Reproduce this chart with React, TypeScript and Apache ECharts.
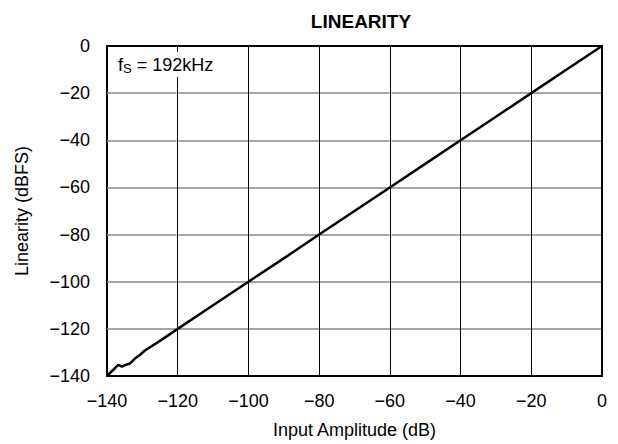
import React, { useEffect, useRef } from "react";
import * as echarts from "echarts";

const xTicks = [-140, -120, -100, -80, -60, -40, -20, 0];
const inputAmplitude = [
  -140, -136.8, -135.8, -134.9, -133.5, -132.1, -130.7, -129.3, -125, -120,
  -110, -100, -90, -80, -70, -60, -50, -40, -30, -20, -10, 0,
];
const linearity = [
  -140, -135.3, -136, -135.4, -134.7, -132.6, -131.1, -129.2, -125.1, -120,
  -110, -100, -90.1, -80, -70, -60, -50, -40, -30, -20, -10, 0,
];

const FONT = "'Liberation Sans', Arial, Helvetica, sans-serif";
const minus = (v: number) => (v < 0 ? "\u2212" + Math.abs(v) : String(v));

export default function App() {
  const ref = useRef<HTMLDivElement>(null);
  useEffect(() => {
    if (!ref.current) return;
    const chart = echarts.init(ref.current, undefined, { renderer: "svg" });
    const data = inputAmplitude.map((x, i) => [x, linearity[i]]);
    chart.setOption({
      animation: false,
      backgroundColor: "#fff",
      title: {
        text: "LINEARITY",
        left: 356,
        top: 7,
        textAlign: "center",
        textStyle: { fontFamily: FONT, fontSize: 19, fontWeight: "bold", color: "#000" },
      },
      grid: {
        left: 107,
        right: 16,
        top: 46,
        bottom: 62,
        show: true,
        borderColor: "#000",
        borderWidth: 2,
        backgroundColor: "transparent",
      },
      xAxis: {
        type: "value",
        min: xTicks[0],
        max: xTicks[xTicks.length - 1],
        interval: 20,
        name: "Input Amplitude (dB)",
        nameLocation: "middle",
        nameGap: 45,
        nameTextStyle: { fontFamily: FONT, fontSize: 18, color: "#000" },
        axisLine: { show: true, lineStyle: { color: "#000", width: 2 } },
        axisTick: { show: false },
        axisLabel: {
          margin: 16,
          fontFamily: FONT,
          fontSize: 18,
          color: "#000",
          formatter: (v: number) => minus(v),
        },
        splitLine: {
          show: true,
          showMinLine: false,
          showMaxLine: false,
          lineStyle: { color: "#000", width: 1 },
        },
      },
      yAxis: {
        type: "value",
        min: -140,
        max: 0,
        interval: 20,
        name: "Linearity (dBFS)",
        nameLocation: "middle",
        nameGap: 76,
        nameTextStyle: { fontFamily: FONT, fontSize: 18, color: "#000" },
        axisLine: { show: true, lineStyle: { color: "#000", width: 2 } },
        axisTick: { show: false },
        axisLabel: {
          margin: 17,
          fontFamily: FONT,
          fontSize: 18,
          color: "#000",
          formatter: (v: number) => minus(v),
        },
        splitLine: {
          show: true,
          showMinLine: false,
          showMaxLine: false,
          lineStyle: { color: "#888", width: 1.5 },
        },
      },
      graphic: [
        {
          type: "text",
          left: 116,
          top: 52,
          z: 10,
          style: {
            text: "f{s|S} = 192kHz",
            fontFamily: FONT,
            fontSize: 18,
            fill: "#000",
            backgroundColor: "#fff",
            padding: [2, 4, 2, 2],
            rich: {
              s: { fontFamily: FONT, fontSize: 13, verticalAlign: "bottom", padding: [8, 0, 0, 0] },
            },
          },
        },
      ],
      series: [
        {
          type: "line",
          data,
          showSymbol: false,
          symbol: "none",
          lineStyle: { color: "#000", width: 2.5 },
          z: 5,
        },
      ],
    });
    return () => chart.dispose();
  }, []);
  return (
    <div
      ref={ref}
      style={{ position: "absolute", left: 0, top: 0, width: 618, height: 444 }}
    />
  );
}
